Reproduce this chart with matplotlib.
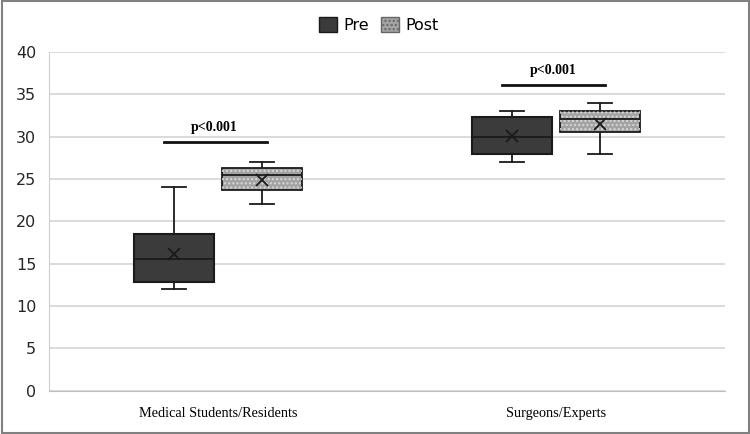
import matplotlib.pyplot as plt
import matplotlib.patches as mpatches
import numpy as np

# box statistics
groups = ["Medical Students/Residents", "Surgeons/Experts"]
series = ["Pre", "Post"]
pre_whislo = [12.0, 27.0]
pre_q1 = [12.8, 28.0]
pre_med = [15.5, 30.0]
pre_q3 = [18.5, 32.3]
pre_whishi = [24.0, 33.0]
pre_mean = [16.1, 30.1]
post_whislo = [22.0, 28.0]
post_q1 = [23.7, 30.5]
post_med = [25.5, 32.1]
post_q3 = [26.3, 33.0]
post_whishi = [27.0, 34.0]
post_mean = [24.9, 31.5]
pvals = ["p<0.001", "p<0.001"]
bracket_y = [29.4, 36.1]


def make_stats(lo, q1, med, q3, hi, mean):
    return [dict(whislo=a, q1=b, med=c, q3=d, whishi=e, mean=f, fliers=[])
            for a, b, c, d, e, f in zip(lo, q1, med, q3, hi, mean)]


fig = plt.figure(figsize=(7.5, 4.34), dpi=100)
ax = fig.add_axes([0.065, 0.1, 0.902, 0.78])

x = np.arange(len(groups))
off = 0.13
w = 0.236
edge = "#1a1a1a"

pre_stats = make_stats(pre_whislo, pre_q1, pre_med, pre_q3, pre_whishi, pre_mean)
post_stats = make_stats(post_whislo, post_q1, post_med, post_q3, post_whishi, post_mean)

common = dict(widths=w, patch_artist=True, showmeans=True, showfliers=False,
              whiskerprops=dict(color=edge, lw=1.3),
              capprops=dict(color=edge, lw=1.3),
              medianprops=dict(color=edge, lw=1.3),
              meanprops=dict(marker="x", markeredgecolor=edge, markersize=9, markeredgewidth=1.3),
              manage_ticks=False, zorder=3)

bp1 = ax.bxp(pre_stats, positions=x - off,
             boxprops=dict(facecolor="#3b3b3b", edgecolor=edge, lw=1.5), **common)
bp2 = ax.bxp(post_stats, positions=x + off,
             boxprops=dict(facecolor="#a3a3a3", edgecolor=edge, lw=1.3), **common)
for c in bp1["caps"] + bp2["caps"]:
    xd = c.get_xdata()
    m = xd.mean()
    c.set_xdata([m - w * 0.15, m + w * 0.15])

# dotted texture on the post boxes
for b in bp2["boxes"]:
    ax.add_patch(mpatches.PathPatch(b.get_path(), facecolor="none", edgecolor="#d8d8d8",
                                    hatch="....", lw=0, zorder=3.5))
    b.set_zorder(3.4)
for ln in bp2["medians"] + bp2["means"] + bp1["medians"] + bp1["means"]:
    ln.set_zorder(4)

# significance brackets
for xi, yb, p in zip(x, bracket_y, pvals):
    ax.plot([xi - 0.16, xi + 0.145], [yb, yb], color="#111111", lw=2, zorder=4)
    ax.text(xi - 0.01, yb + 0.9, p, ha="center", va="bottom",
            fontsize=10, fontweight="bold", family="Liberation Serif")

ax.set_xlim(-0.5, 1.5)
ax.set_ylim(0, 40)
ax.set_yticks(np.arange(0, 41, 5))
ax.set_xticks(x)
ax.set_xticklabels(groups, family="Liberation Serif", fontsize=10.3)
ax.tick_params(axis="y", length=0, labelsize=11.5, pad=9, labelcolor="#262626")
ax.tick_params(axis="x", length=0, pad=12)
ax.grid(axis="y", color="#d4d4d4", lw=1.2, zorder=0)
ax.set_axisbelow(True)
for s in ["top", "right"]:
    ax.spines[s].set_visible(False)
ax.spines["left"].set_color("#cfcfcf")
ax.spines["bottom"].set_color("#bfbfbf")

handles = [mpatches.Patch(facecolor="#3b3b3b", edgecolor=edge, label="Pre"),
           mpatches.Patch(facecolor="#a3a3a3", edgecolor="#666666", hatch="....", label="Post")]
fig.legend(handles=handles, loc="upper center", bbox_to_anchor=(0.505, 0.995), ncol=2,
           frameon=False, fontsize=11.5, handlelength=1.1, handleheight=1.1,
           columnspacing=0.8, handletextpad=0.4)

fig.patches.append(mpatches.Rectangle((0.002, 0.003), 0.996, 0.994, transform=fig.transFigure,
                                      fill=False, edgecolor="#808080", lw=1.5))

fig.savefig("out.png", dpi=100)
